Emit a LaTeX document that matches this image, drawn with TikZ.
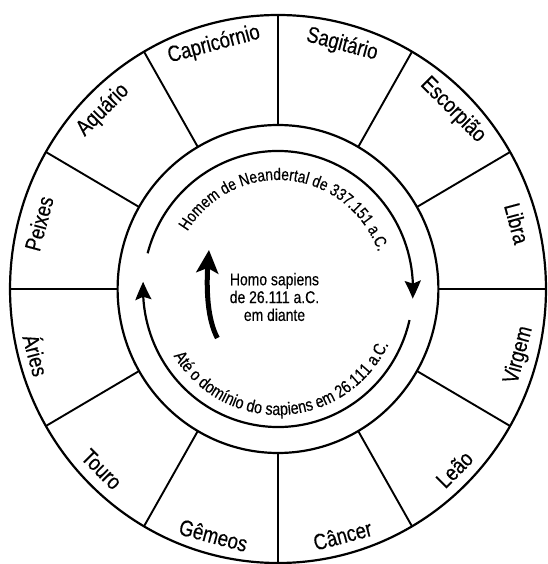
\documentclass[tikz,border=0pt]{standalone}
\usepackage{fontspec}
\setmainfont{Liberation Sans}[FakeStretch=0.82,FakeBold=0.4]
\usetikzlibrary{arrows.meta,bending,decorations.text}
\newcommand\ringfont{\fontsize{16.8}{18}\selectfont}
\newcommand\lowringfont{\fontsize{17.5}{19}\selectfont}
\begin{document}
\begin{tikzpicture}[x=0.978pt,y=1pt,
  ringline/.style={line width=2.2pt},
  sectorline/.style={line width=1.9pt},
  sign/.style={font=\fontsize{22.5}{24}\selectfont, inner sep=0pt},
  eraarrow/.style={line width=2.2pt, -{Stealth[length=18pt,width=16pt,inset=3pt,bend]}},
  bigarrow/.style={line width=5pt, -{Stealth[length=23pt,width=22pt,inset=5pt]}},
  centertext/.style={align=center, font=\fontsize{17}{17.8}\selectfont, inner sep=0pt}]
\useasboundingbox (-278pt,-275pt) rectangle (269pt,289pt);
\coordinate (c) at (0,0);
\draw[ringline] (c) circle[radius=274];
\draw[ringline] (c) circle[radius=164];
\foreach \a in {0,30,...,330}{
  \coordinate (in\a) at (\a:164);
  \coordinate (out\a) at (\a:274);
  \draw[sectorline] (in\a) -- (out\a);
}
\foreach \a/\t in {105/Capricórnio,135/Aquário,165/Peixes,75/Sagitário,45/Escorpião,15/Libra}
  \node[sign, rotate=\a-90] (s\a) at (\a:253) {\t};
\foreach \a/\t in {195/Áries,225/Touro,255/Gêmeos,285/Câncer,315/Leão,345/Virgem}
  \node[sign, rotate=\a+90] (s\a) at (\a:255) {\t};
\coordinate (topstart) at (165:138);
\draw[eraarrow] (topstart) arc[start angle=165, end angle=-4, radius=138];
\coordinate (botstart) at (-13:138);
\draw[eraarrow] (botstart) arc[start angle=-13, end angle=-183, radius=138];
\path[decorate, decoration={text along path, text align=center,
  text={|\ringfont|Homem de Neandertal de 337.151 a.C.}}]
  (155:109) arc[start angle=155, end angle=13, radius=109];
\path[decorate, decoration={text along path, text align=center,
  text={|\lowringfont|Até o domínio do sapiens em 26.111 a.C.}}]
  (200:126) arc[start angle=200, end angle=346, radius=126];
\coordinate (arrowfoot) at (-62,-49);
\coordinate (arrowtip) at (-70.6,39);
\draw[bigarrow] (arrowfoot) .. controls (-75,-25) and (-73,15) .. (arrowtip);
\node[centertext] (homo) at (-3.6,-8) {Homo sapiens\\de 26.111 a.C.\\em diante};
\end{tikzpicture}
\end{document}
